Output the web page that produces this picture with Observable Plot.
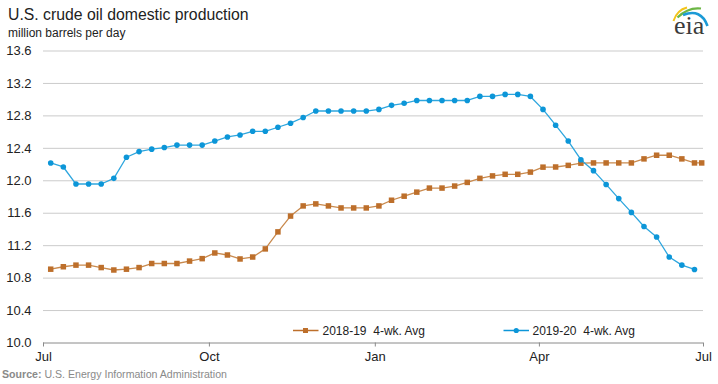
<!DOCTYPE html>
<html><head><meta charset="utf-8">
<script src="https://cdn.jsdelivr.net/npm/d3@7"></script>
<script src="https://cdn.jsdelivr.net/npm/@observablehq/plot@0.6"></script>
<style>
body{margin:0;background:#fff;}
svg{display:block;}
</style></head><body>
<div id="chart"></div>
<script>
const weeks1920 = ["2019-07-05","2019-07-12","2019-07-19","2019-07-26","2019-08-02","2019-08-09","2019-08-16","2019-08-23","2019-08-30","2019-09-06","2019-09-13","2019-09-20","2019-09-27","2019-10-04","2019-10-11","2019-10-18","2019-10-25","2019-11-01","2019-11-08","2019-11-15","2019-11-22","2019-11-29","2019-12-06","2019-12-13","2019-12-20","2019-12-27","2020-01-03","2020-01-10","2020-01-17","2020-01-24","2020-01-31","2020-02-07","2020-02-14","2020-02-21","2020-02-28","2020-03-06","2020-03-13","2020-03-20","2020-03-27","2020-04-03","2020-04-10","2020-04-17","2020-04-24","2020-05-01","2020-05-08","2020-05-15","2020-05-22","2020-05-29","2020-06-05","2020-06-12","2020-06-19","2020-06-26"];
const weeks1819 = weeks1920.concat(["2020-06-30"]);
const values1920 = [12.22,12.17,11.96,11.96,11.96,12.03,12.29,12.36,12.39,12.41,12.44,12.44,12.44,12.49,12.54,12.565,12.61,12.61,12.66,12.71,12.78,12.86,12.86,12.86,12.86,12.86,12.88,12.93,12.955,12.99,12.99,12.99,12.99,12.99,13.04,13.04,13.065,13.065,13.04,12.88,12.685,12.49,12.26,12.125,11.955,11.78,11.61,11.436,11.307,11.06,10.96,10.907];
const values1819 = [10.91,10.94,10.96,10.96,10.93,10.90,10.91,10.93,10.98,10.98,10.98,11.01,11.04,11.11,11.085,11.036,11.06,11.16,11.37,11.565,11.69,11.715,11.69,11.665,11.665,11.665,11.69,11.76,11.81,11.86,11.91,11.91,11.935,11.98,12.03,12.06,12.08,12.08,12.107,12.168,12.17,12.19,12.217,12.22,12.22,12.22,12.22,12.27,12.315,12.315,12.27,12.22,12.22];
const yTicks = [10.0,10.4,10.8,11.2,11.6,12.0,12.4,12.8,13.2,13.6];
const xTicks = ["2019-07-01","2019-10-01","2020-01-01","2020-04-01","2020-07-01"];
const seriesNames = ["2018-19  4-wk. Avg","2019-20  4-wk. Avg"];
const colors = ["#bd6f2b","#0c96d8"];
const lineColors = ["#c98a4e","#2ea6de"];

const d1819 = weeks1819.map((w,i)=>({date:new Date(w), value:values1819[i]}));
const d1920 = weeks1920.map((w,i)=>({date:new Date(w), value:values1920[i]}));

const chart = Plot.plot({
  width: 718, height: 384,
  marginLeft: 43, marginRight: 15, marginTop: 50.5, marginBottom: 41.5,
  style: {fontFamily: "'Liberation Sans', Arial, sans-serif", fontSize: "13px", color: "#222", background: "#fff", overflow: "visible"},
  x: {type: "utc", domain: [new Date(xTicks[0]), new Date(xTicks[xTicks.length-1])]},
  y: {domain: [10, 13.6]},
  marks: [
    Plot.ruleY(yTicks.slice(1), {stroke: "#cbcbcb", strokeWidth: 1}),
    Plot.ruleY([10], {stroke: "#8a8a8a", strokeWidth: 1}),
    Plot.axisY({ticks: yTicks, tickSize: 0, tickPadding: 12, tickFormat: d => d.toFixed(1), label: null, fontSize: 13, fill: "#222"}),
    Plot.axisX({ticks: xTicks.map(d=>new Date(d)), tickSize: 4, tickPadding: 5, tickFormat: d3.utcFormat("%b"), label: null, stroke: "#8a8a8a", fontSize: 13, fill: "#222"}),
    Plot.line(d1819, {x: "date", y: "value", stroke: lineColors[0], strokeWidth: 1.3}),
    Plot.dot(d1819, {x: "date", y: "value", symbol: "square", fill: colors[0], r: 3.1}),
    Plot.line(d1920, {x: "date", y: "value", stroke: lineColors[1], strokeWidth: 1.3}),
    Plot.dot(d1920, {x: "date", y: "value", symbol: "circle", fill: colors[1], r: 2.8})
  ]
});
document.getElementById("chart").appendChild(chart);

const svg = d3.select(chart);
const font = "'Liberation Sans', Arial, sans-serif";
const T = (x, y, size) => svg.append("text").attr("x", x).attr("y", y).attr("font-family", font).attr("font-size", size).attr("text-anchor", "start");
T(8, 20, 15.8).attr("fill", "#222").text("U.S. crude oil domestic production");
T(8, 37, 12).attr("fill", "#222").text("million barrels per day");
const src = T(2, 377.5, 10.6).attr("fill", "#8a8a8a");
src.append("tspan").attr("font-weight", "bold").text("Source:");
src.append("tspan").text(" U.S. Energy Information Administration");

// legend
const leg = [{x: 293, tx: 322.5}, {x: 503.5, tx: 532.5}];
leg.forEach((l, i) => {
  const g = svg.append("g");
  g.append("line").attr("x1", l.x).attr("x2", l.x + 25.5).attr("y1", 330.5).attr("y2", 330.5).attr("stroke", colors[i]).attr("stroke-width", 1.5);
  if (i === 0) g.append("rect").attr("x", l.x + 10).attr("y", 328).attr("width", 5).attr("height", 5).attr("fill", colors[i]);
  else g.append("circle").attr("cx", l.x + 12.75).attr("cy", 330.5).attr("r", 2.6).attr("fill", colors[i]);
  T(l.tx, 335, 12).attr("fill", "#222").style("white-space", "pre").text(seriesNames[i]);
});

// eia logo
const logo = svg.append("g");
logo.append("path").attr("d", "M673.5 21 Q677 10 687 7.5").attr("fill", "none").attr("stroke", "#f3c41a").attr("stroke-width", 2);
logo.append("path").attr("d", "M677.5 17.5 Q688 7 701 8.5").attr("fill", "none").attr("stroke", "#6cb645").attr("stroke-width", 2.2);
logo.append("path").attr("d", "M683 15 Q701 8 707.5 26").attr("fill", "none").attr("stroke", "#1b9ad6").attr("stroke-width", 2.6);
logo.append("text").attr("x", 674).attr("y", 33.5).attr("text-anchor", "start").attr("font-family", "'Liberation Serif', 'DejaVu Serif', serif").attr("font-size", 26).attr("fill", "#3b3b3b").text("eia");
</script>
</body></html>
